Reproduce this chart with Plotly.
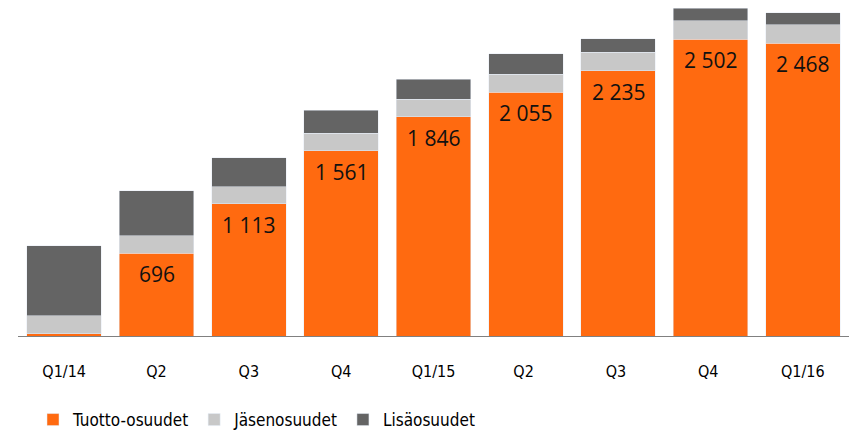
import plotly.graph_objects as go

categories = ["Q1/14", "Q2", "Q3", "Q4", "Q1/15", "Q2 ", "Q3 ", "Q4 ", "Q1/16"]
tuotto = [20, 696, 1113, 1561, 1846, 2055, 2235, 2502, 2468]
jasen = [149, 149, 146, 149, 149, 152, 157, 157, 154]
lisa = [590, 379, 242, 194, 169, 171, 112, 104, 101]
tuotto_labels = ["", "696", "1 113", "1 561", "1 846", "2 055", "2 235", "2 502", "2 468"]

ORANGE = "#FF6A10"
LIGHT = "#C8C8C8"
DARK = "#646464"
NARROW = "DejaVu Sans Condensed, sans-serif"

fig = go.Figure()
fig.add_trace(go.Bar(x=categories, y=tuotto, name="Tuotto-osuudet", marker_color=ORANGE))
fig.add_trace(go.Bar(x=categories, y=jasen, name="Jäsenosuudet", marker_color=LIGHT))
fig.add_trace(go.Bar(x=categories, y=lisa, name="Lisäosuudet", marker_color=DARK))

for c, v, t in zip(categories, tuotto, tuotto_labels):
    if t:
        fig.add_annotation(x=c, y=v, text=t, showarrow=False, yanchor="middle",
                           yshift=-21, font=dict(family="Open Sans", size=21, color="#111111"))

fig.update_layout(
    barmode="stack",
    bargap=0.194,
    width=850, height=431,
    margin=dict(l=18, r=1, t=0, b=95, autoexpand=False),
    plot_bgcolor="white", paper_bgcolor="white",
    showlegend=True,
    legend=dict(orientation="h", xref="container", yref="container",
                x=33/850, y=1-420/431, xanchor="left", yanchor="middle",
                font=dict(family=NARROW, size=17, color="#000000"),
                traceorder="normal"),
    xaxis=dict(showline=True, linecolor="#808080", linewidth=1, showgrid=False,
               ticks="", ticklabelstandoff=21,
               tickfont=dict(family=NARROW, size=16, color="#000000")),
    yaxis=dict(visible=False, range=[0, 2832], showgrid=False, zeroline=False),
)

fig.write_html("out.html", config={"displayModeBar": False},
               post_script="document.body.style.margin='0';document.body.style.overflow='hidden';")
